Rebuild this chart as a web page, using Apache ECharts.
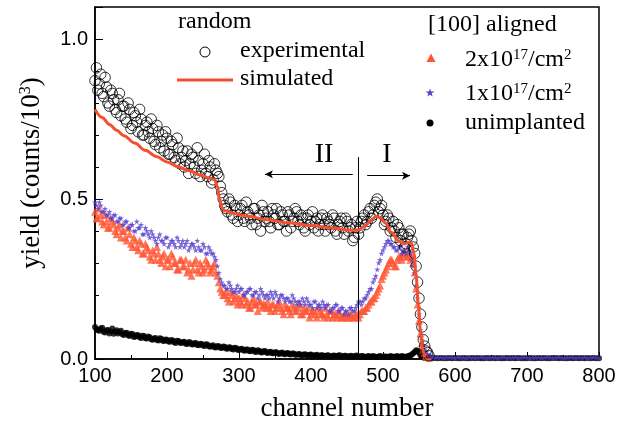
<!DOCTYPE html>
<html>
<head>
<meta charset="utf-8">
<script src="https://cdn.jsdelivr.net/npm/echarts@6/dist/echarts.min.js"></script>
<style>
html, body { margin: 0; padding: 0; background: #fff; }
#chart { width: 620px; height: 432px; }
</style>
</head>
<body>
<div id="chart"></div>
<script>
// RBS spectra: yield vs. channel number.
// Each measured spectrum is stored as two interleaved halves:
// "A" arrays start at channel 100, "B" arrays at channel 102, both stepping by 4.
const CH_STEP = 4;
const START_A = 100;
const START_B = 102;

// random orientation, measured
const expRandomA = [
  0.87,0.84,0.89,0.82,0.85,0.79,0.83,0.78,0.81,0.76,
  0.79,0.74,0.78,0.73,0.76,0.71,0.75,0.70,0.74,0.69,
  0.72,0.67,0.71,0.68,0.65,0.69,0.64,0.67,0.62,0.66,
  0.63,0.60,0.65,0.61,0.63,0.58,0.62,0.59,0.64,0.57,
  0.60,0.56,0.59,0.57,0.52,0.48,0.46,0.49,0.44,0.47,
  0.45,0.48,0.43,0.46,0.44,0.47,0.42,0.45,0.48,0.43,
  0.46,0.41,0.45,0.47,0.42,0.45,0.43,0.46,0.41,0.44,
  0.46,0.42,0.44,0.40,0.45,0.43,0.41,0.44,0.42,0.45,
  0.40,0.43,0.41,0.44,0.39,0.43,0.41,0.44,0.40,0.42,
  0.38,0.43,0.41,0.44,0.42,0.46,0.44,0.48,0.50,0.47,
  0.45,0.43,0.44,0.41,0.40,0.42,0.37,0.39,0.36,0.39,
  0.37,0.33,0.24,0.14,0.06,0.025,0.01
];
const expRandomB = [
  0.91,0.86,0.83,0.88,0.80,0.84,0.81,0.77,0.83,0.79,
  0.75,0.80,0.72,0.77,0.74,0.78,0.70,0.73,0.71,0.75,
  0.68,0.73,0.66,0.70,0.71,0.64,0.68,0.63,0.69,0.61,
  0.65,0.62,0.58,0.64,0.60,0.66,0.57,0.61,0.58,0.62,
  0.55,0.61,0.58,0.54,0.50,0.47,0.50,0.45,0.48,0.43,
  0.47,0.44,0.49,0.45,0.42,0.47,0.44,0.40,0.46,0.44,
  0.43,0.47,0.44,0.42,0.46,0.43,0.40,0.45,0.43,0.47,
  0.43,0.45,0.41,0.44,0.42,0.46,0.43,0.40,0.44,0.42,
  0.44,0.42,0.45,0.40,0.42,0.44,0.39,0.43,0.41,0.37,
  0.41,0.39,0.43,0.45,0.43,0.47,0.45,0.49,0.46,0.48,
  0.42,0.45,0.40,0.43,0.38,0.41,0.39,0.35,0.38,0.40,
  0.35,0.29,0.19,0.10,0.04,0.02
];

// random orientation, simulated
const simChannels = [100,110,120,130,140,155,170,185,200,215,230,245,258,266,270,273,276,280,290,310,340,370,400,430,455,465,475,483,490,496,503,512,522,530,536,540,543,546,549,552,555,558];
const simYield    = [0.78,0.755,0.733,0.715,0.698,0.675,0.652,0.633,0.616,0.601,0.589,0.576,0.566,0.560,0.54,0.50,0.475,0.463,0.456,0.447,0.435,0.425,0.417,0.409,0.402,0.403,0.415,0.432,0.445,0.443,0.425,0.395,0.368,0.36,0.365,0.36,0.33,0.26,0.17,0.09,0.03,0.005];

// [100] aligned, 2x10^17/cm^2
const dose2e17A = [
  0.46,0.44,0.45,0.42,0.43,0.41,0.43,0.40,0.41,0.38,
  0.40,0.37,0.39,0.35,0.37,0.34,0.36,0.33,0.35,0.32,
  0.34,0.31,0.33,0.30,0.33,0.31,0.29,0.32,0.30,0.28,
  0.31,0.29,0.27,0.30,0.28,0.31,0.27,0.29,0.28,0.30,
  0.27,0.29,0.27,0.24,0.21,0.20,0.19,0.21,0.18,0.20,
  0.19,0.17,0.19,0.18,0.16,0.19,0.17,0.18,0.16,0.17,
  0.18,0.15,0.17,0.16,0.18,0.15,0.17,0.16,0.14,0.16,
  0.15,0.17,0.14,0.15,0.16,0.14,0.15,0.13,0.15,0.14,
  0.16,0.13,0.15,0.14,0.13,0.14,0.13,0.14,0.13,0.14,
  0.13,0.14,0.14,0.15,0.16,0.17,0.18,0.19,0.21,0.23,
  0.26,0.28,0.30,0.31,0.29,0.31,0.32,0.33,0.32,0.33,
  0.32,0.27,0.17,0.08,0.03,0.01,0.004
];
const dose2e17B = [
  0.44,0.47,0.43,0.45,0.41,0.44,0.42,0.39,0.42,0.40,
  0.38,0.41,0.36,0.38,0.35,0.37,0.33,0.36,0.34,0.31,
  0.33,0.35,0.31,0.32,0.29,0.31,0.33,0.30,0.28,0.31,
  0.29,0.31,0.28,0.26,0.30,0.28,0.30,0.27,0.31,0.29,
  0.28,0.30,0.26,0.22,0.20,0.21,0.18,0.20,0.19,0.17,
  0.18,0.20,0.17,0.16,0.18,0.17,0.15,0.18,0.17,0.16,
  0.16,0.17,0.15,0.17,0.16,0.14,0.16,0.15,0.17,0.15,
  0.16,0.14,0.16,0.15,0.13,0.15,0.14,0.16,0.14,0.13,
  0.14,0.15,0.13,0.14,0.15,0.13,0.14,0.13,0.14,0.13,
  0.14,0.13,0.15,0.15,0.16,0.18,0.19,0.20,0.22,0.25,
  0.27,0.29,0.31,0.30,0.29,0.32,0.31,0.33,0.32,0.31,
  0.30,0.22,0.12,0.05,0.02,0.006
];

// [100] aligned, 1x10^17/cm^2 (A runs out to channel 800)
const dose1e17A = [
  0.49,0.47,0.48,0.46,0.45,0.46,0.44,0.45,0.43,0.44,
  0.42,0.43,0.41,0.42,0.40,0.41,0.42,0.39,0.40,0.38,
  0.39,0.37,0.38,0.37,0.36,0.38,0.36,0.37,0.35,0.37,
  0.36,0.35,0.37,0.35,0.36,0.34,0.35,0.34,0.35,0.33,
  0.34,0.33,0.31,0.27,0.24,0.23,0.22,0.23,0.21,0.22,
  0.21,0.22,0.20,0.21,0.22,0.20,0.21,0.20,0.21,0.19,
  0.20,0.21,0.19,0.20,0.19,0.20,0.18,0.19,0.18,0.19,
  0.17,0.18,0.19,0.17,0.18,0.17,0.18,0.16,0.17,0.18,
  0.16,0.17,0.15,0.16,0.17,0.15,0.16,0.15,0.14,0.16,
  0.15,0.17,0.18,0.18,0.19,0.21,0.22,0.25,0.28,0.31,
  0.34,0.36,0.37,0.36,0.35,0.34,0.35,0.34,0.33,0.34,
  0.31,0.27,0.19,0.09,0.045,0.022,0.012,0.007,0.005,
  0.004,0.005,0.003,0.004,0.005,0.004,0.003,0.005,0.004,0.004,
  0.003,0.005,0.004,0.003,0.004,0.005,0.004,0.003,0.004,0.005,
  0.004,0.003,0.004,0.005,0.003,0.004,0.004,0.005,0.003,0.004,
  0.005,0.004,0.003,0.004,0.004,0.005,0.003,0.004,0.005,0.004,
  0.003,0.004,0.005,0.004,0.003,0.004,0.005,0.004,0.003,0.004,
  0.004,0.005,0.003,0.004,0.005,0.004,0.003
];
const dose1e17B = [
  0.48,0.49,0.46,0.47,0.45,0.44,0.45,0.43,0.44,0.42,
  0.43,0.41,0.42,0.40,0.43,0.41,0.39,0.41,0.39,0.40,
  0.38,0.36,0.39,0.37,0.38,0.35,0.37,0.36,0.38,0.35,
  0.37,0.36,0.34,0.36,0.35,0.37,0.34,0.36,0.33,0.35,
  0.33,0.32,0.29,0.25,0.23,0.22,0.24,0.22,0.21,0.23,
  0.22,0.20,0.21,0.22,0.20,0.21,0.19,0.22,0.20,0.20,
  0.19,0.20,0.21,0.18,0.20,0.19,0.19,0.18,0.20,0.18,
  0.18,0.17,0.18,0.19,0.17,0.16,0.18,0.17,0.16,0.17,
  0.17,0.15,0.16,0.17,0.15,0.16,0.14,0.15,0.16,0.15,
  0.16,0.18,0.17,0.19,0.20,0.22,0.24,0.26,0.30,0.33,
  0.35,0.37,0.36,0.35,0.34,0.35,0.33,0.34,0.35,0.33,
  0.29,0.23,0.14,0.06,0.03,0.016,0.009,0.006
];

// [100] aligned, unimplanted (A runs out to channel 800)
const unimplantedA = [
  0.100,0.090,0.095,0.085,0.090,0.080,0.095,0.085,0.080,0.088,
  0.075,0.082,0.072,0.078,0.070,0.074,0.066,0.072,0.064,0.068,
  0.060,0.066,0.058,0.063,0.056,0.060,0.054,0.058,0.050,0.056,
  0.050,0.054,0.047,0.052,0.045,0.050,0.043,0.047,0.041,0.045,
  0.038,0.043,0.036,0.040,0.034,0.038,0.032,0.036,0.030,0.034,
  0.028,0.032,0.026,0.030,0.024,0.028,0.022,0.026,0.020,0.025,
  0.019,0.023,0.018,0.021,0.016,0.020,0.015,0.019,0.014,0.017,
  0.013,0.016,0.012,0.015,0.011,0.014,0.010,0.013,0.010,0.012,
  0.009,0.012,0.008,0.011,0.009,0.012,0.008,0.010,0.007,0.010,
  0.008,0.011,0.007,0.009,0.006,0.009,0.007,0.008,0.006,0.009,
  0.007,0.008,0.006,0.008,0.007,0.009,0.006,0.008,0.007,0.010,
  0.014,0.022,0.026,0.012,0.005,0.004,0.003,0.002,0.003,0.002,
  0.003,0.002,0.002,0.003,0.002,0.003,0.002,0.002,0.003,0.002,
  0.002,0.003,0.002,0.003,0.002,0.002,0.003,0.002,0.003,0.002,
  0.003,0.002,0.002,0.003,0.002,0.003,0.002,0.003,0.002,0.002,
  0.002,0.003,0.002,0.002,0.003,0.002,0.003,0.002,0.002,0.003,
  0.003,0.002,0.003,0.002,0.002,0.003,0.002,0.003,0.002,0.003,
  0.002,0.003,0.002,0.003,0.002,0.002
];
const unimplantedB = [
  0.094,0.088,0.098,0.083,0.091,0.086,0.079,0.090,0.084,0.077,
  0.081,0.074,0.079,0.069,0.075,0.068,0.073,0.065,0.070,0.062,
  0.064,0.059,0.065,0.057,0.061,0.055,0.059,0.052,0.057,0.051,
  0.053,0.048,0.052,0.046,0.049,0.044,0.048,0.042,0.046,0.040,
  0.041,0.037,0.041,0.035,0.039,0.033,0.037,0.031,0.035,0.029,
  0.031,0.027,0.030,0.025,0.029,0.023,0.027,0.021,0.024,0.020,
  0.022,0.018,0.021,0.017,0.019,0.016,0.018,0.015,0.017,0.013,
  0.015,0.012,0.014,0.011,0.013,0.011,0.012,0.010,0.012,0.009,
  0.011,0.008,0.010,0.009,0.011,0.008,0.010,0.008,0.009,0.007,
  0.010,0.007,0.009,0.006,0.008,0.007,0.009,0.006,0.008,0.007,
  0.008,0.006,0.009,0.007,0.008,0.006,0.009,0.007,0.008,0.011,
  0.018,0.027,0.020,0.008,0.004,0.003
];

// axis ticks
const xTicks = { min: 100, max: 800, step: 100 };
const yLabelValues = [0, 0.5, 1.0];

// region boundary (channel) and arrow / label placement (channel, yield)
const regionBoundary = 465;

const toPairs = (arr, start) => arr.map((v, i) => [start + CH_STEP * i, v]);
const merged = (a, b) => toPairs(a, START_A).concat(toPairs(b, START_B));

const RED = '#f4502f';
const TRI = '#ff5533';
const BLUE = '#5840cc';
const SERIF = '"Liberation Serif", "DejaVu Serif", serif';
const SANS = '"Liberation Sans", Arial, sans-serif';
const STAR = 'path://M50,0 L61,35 L98,35 L68,57 L79,91 L50,70 L21,91 L32,57 L2,35 L39,35 Z';

const chart = echarts.init(document.getElementById('chart'), null, { renderer: 'canvas' });

const isLabelled = v => yLabelValues.some(t => Math.abs(t - v) < 1e-6);

const option = {
  animation: false,
  backgroundColor: '#fff',
  grid: {
    left: 95, right: 21, top: 7, bottom: 73,
    show: true, borderColor: '#000', borderWidth: 1.5, backgroundColor: 'transparent'
  },
  xAxis: {
    type: 'value',
    min: xTicks.min, max: xTicks.max, interval: xTicks.step,
    name: 'channel number',
    nameLocation: 'middle',
    nameGap: 36,
    nameTextStyle: { fontFamily: SERIF, fontSize: 27, color: '#000' },
    axisLine: { show: true, onZero: false, lineStyle: { color: '#000', width: 1.5 } },
    axisTick: { show: true, inside: true, length: 7, lineStyle: { color: '#000', width: 1 } },
    minorTick: { show: true, splitNumber: 2, length: 4, lineStyle: { color: '#000', width: 1 } },
    axisLabel: { fontFamily: SANS, fontSize: 20, color: '#000', margin: 7 },
    splitLine: { show: false }
  },
  yAxis: [
    {
      type: 'value', min: 0, max: 1.1, interval: 0.1,
      axisLine: { show: true, onZero: false, lineStyle: { color: '#000', width: 1.5 } },
      axisTick: { show: true, inside: true, length: 4, lineStyle: { color: '#000', width: 1 } },
      axisLabel: { show: false },
      splitLine: { show: false }
    },
    {
      type: 'value', min: 0, max: 1.1, interval: 0.5, position: 'left',
      name: '{t|yield (counts/10}{s|3}{t|)}',
      nameLocation: 'middle',
      nameGap: 50,
      nameTextStyle: {
        color: '#000',
        padding: [0, 0, 0, 20],
        rich: {
          t: { fontFamily: SERIF, fontSize: 27, color: '#000' },
          s: { fontFamily: SERIF, fontSize: 16, color: '#000', verticalAlign: 'top' }
        }
      },
      axisLine: { show: false },
      axisTick: { show: true, inside: true, length: 8, lineStyle: { color: '#000', width: 1 } },
      axisLabel: {
        fontFamily: SANS, fontSize: 20, color: '#000', margin: 7,
        formatter: v => (isLabelled(v) ? v.toFixed(1) : '')
      },
      splitLine: { show: false }
    }
  ],
  series: [
    {
      name: 'unimplanted', type: 'scatter', yAxisIndex: 0,
      symbol: 'circle', symbolSize: 6,
      itemStyle: { color: '#000' },
      data: merged(unimplantedA, unimplantedB), z: 2
    },
    {
      name: '2x10^17/cm^2', type: 'scatter', yAxisIndex: 0,
      symbol: 'triangle', symbolSize: 8,
      itemStyle: { color: TRI },
      data: merged(dose2e17A, dose2e17B), z: 3
    },
    {
      name: '1x10^17/cm^2', type: 'scatter', yAxisIndex: 0,
      symbol: STAR, symbolSize: 6,
      itemStyle: { color: BLUE },
      data: merged(dose1e17A, dose1e17B), z: 4
    },
    {
      name: 'experimental', type: 'scatter', yAxisIndex: 0,
      symbol: 'circle', symbolSize: 10.5,
      itemStyle: { color: 'rgba(0,0,0,0)', borderColor: '#000', borderWidth: 1 },
      data: merged(expRandomA, expRandomB), z: 5
    },
    {
      name: 'simulated', type: 'line', yAxisIndex: 0,
      symbol: 'none', smooth: 0.35, smoothMonotone: 'x',
      lineStyle: { color: RED, width: 3 },
      data: simChannels.map((c, i) => [c, simYield[i]]), z: 6,
      markLine: {
        silent: true, animation: false,
        symbol: ['none', 'none'],
        label: { show: false },
        lineStyle: { color: '#000', width: 1, type: 'solid' },
        data: [
          [ { coord: [regionBoundary, 0] }, { coord: [regionBoundary, 0.631] } ],
          [ { coord: [458, 0.577] }, { coord: [336, 0.577], symbol: 'arrow', symbolSize: [6, 8] } ],
          [ { coord: [478, 0.573] }, { coord: [537.5, 0.573], symbol: 'arrow', symbolSize: [6, 8] } ]
        ]
      },
      markPoint: {
        silent: true, animation: false,
        symbol: 'circle', symbolSize: 1,
        itemStyle: { color: 'rgba(0,0,0,0)' },
        label: {
          show: true, position: 'inside', formatter: p => p.name,
          fontFamily: SERIF, fontSize: 28, color: '#000'
        },
        data: [
          { name: 'II', coord: [418, 0.6375] },
          { name: 'I', coord: [505.6, 0.6375] }
        ]
      }
    }
  ],
  graphic: [
    { type: 'text', x: 178, y: 22, style: { text: 'random', font: '24px ' + SERIF, fill: '#000', verticalAlign: 'middle' } },
    { type: 'circle', shape: { cx: 205, cy: 52, r: 5 }, style: { fill: 'none', stroke: '#000', lineWidth: 1 } },
    { type: 'text', x: 240, y: 51, style: { text: 'experimental', font: '24px ' + SERIF, fill: '#000', verticalAlign: 'middle' } },
    { type: 'line', shape: { x1: 177, y1: 80, x2: 233, y2: 80 }, style: { stroke: RED, lineWidth: 3 } },
    { type: 'text', x: 240, y: 79, style: { text: 'simulated', font: '24px ' + SERIF, fill: '#000', verticalAlign: 'middle' } },

    { type: 'text', x: 428, y: 25, style: { text: '[100] aligned', font: '24px ' + SERIF, fill: '#000', verticalAlign: 'middle' } },
    { type: 'polygon', shape: { points: [[431, 53.5], [435.5, 62], [426.5, 62]] }, style: { fill: TRI } },
    {
      type: 'text', x: 465, y: 60,
      style: {
        text: '{a|2x10}{s|17}{a|/cm}{s|2}', verticalAlign: 'middle', fill: '#000',
        rich: {
          a: { fontFamily: SERIF, fontSize: 24, fill: '#000' },
          s: { fontFamily: SERIF, fontSize: 15, fill: '#000', verticalAlign: 'top' }
        }
      }
    },
    {
      type: 'polygon',
      shape: { points: [[430, 88.5], [431.1, 91.6], [434.4, 91.6], [431.7, 93.5], [432.7, 96.6], [430, 94.7], [427.3, 96.6], [428.3, 93.5], [425.6, 91.6], [428.9, 91.6]] },
      style: { fill: BLUE }
    },
    {
      type: 'text', x: 465, y: 94,
      style: {
        text: '{a|1x10}{s|17}{a|/cm}{s|2}', verticalAlign: 'middle', fill: '#000',
        rich: {
          a: { fontFamily: SERIF, fontSize: 24, fill: '#000' },
          s: { fontFamily: SERIF, fontSize: 15, fill: '#000', verticalAlign: 'top' }
        }
      }
    },
    { type: 'circle', shape: { cx: 430, cy: 123, r: 3.5 }, style: { fill: '#000' } },
    { type: 'text', x: 465, y: 123, style: { text: 'unimplanted', font: '24px ' + SERIF, fill: '#000', verticalAlign: 'middle' } }
  ]
};

chart.setOption(option);
</script>
</body>
</html>
